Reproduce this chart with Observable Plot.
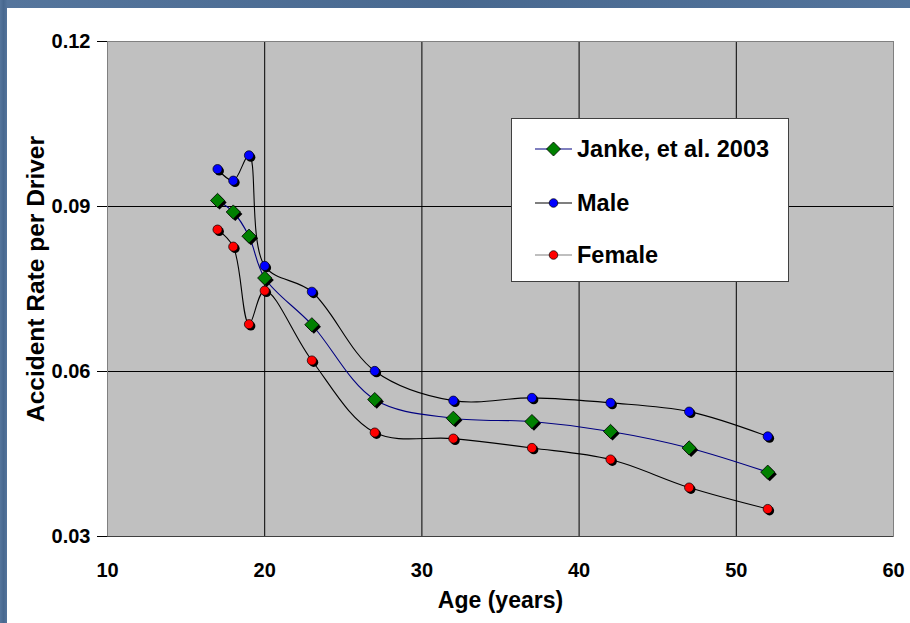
<!DOCTYPE html>
<html>
<head>
<meta charset="utf-8">
<script src="https://cdn.jsdelivr.net/npm/d3@7"></script>
<script src="https://cdn.jsdelivr.net/npm/@observablehq/plot@0.6"></script>
<style>
  html, body { margin: 0; padding: 0; background: #fff; }
  #wrap { position: relative; width: 910px; height: 623px; overflow: hidden;
          font-family: "Liberation Sans", Arial, sans-serif; background: #fff; }
  #chart { position: absolute; left: 0; top: 0; }
  .band { position: absolute; background: #4c6e97;
          background-image: linear-gradient(90deg, rgba(255,255,255,0.05), rgba(0,0,0,0.05), rgba(255,255,255,0.04)); }
  #legend { position: absolute; left: 511px; top: 118px; width: 278px; height: 164px;
            box-sizing: border-box; background: #fff; border: 1px solid #404040; }
  .row { position: absolute; left: 0; height: 30px; display: flex; align-items: center; }
  .row svg { position: absolute; left: 22px; top: 7px; }
  .row span { position: absolute; left: 65px; top: 1px; white-space: nowrap;
              font-weight: bold; font-size: 23.5px; line-height: 28px; color: #000; }
</style>
</head>
<body>
<div id="wrap">
  <div id="chart"></div>
  <div class="band" style="left:0;top:0;width:910px;height:8px;"></div>
  <div class="band" style="left:0;top:0;width:7px;height:623px;"></div>
  <div id="legend"></div>
</div>
<script>
// Crash rate per licensed driver by age
const ages = [17, 18, 19, 20, 23, 27, 32, 37, 42, 47, 52];
const janke = [0.0911, 0.0890, 0.0846, 0.0770, 0.0685, 0.0549, 0.0515, 0.0509, 0.0491, 0.0461, 0.0417];
const male = [0.0968, 0.0947, 0.0993, 0.0792, 0.0745, 0.0601, 0.0547, 0.0552, 0.0543, 0.0527, 0.0482];
const female = [0.0858, 0.0827, 0.0686, 0.0747, 0.0620, 0.0489, 0.0478, 0.0461, 0.0440, 0.0389, 0.0350];

const xTicks = [10, 20, 30, 40, 50, 60];
const yTicks = [0.03, 0.06, 0.09, 0.12];
const seriesNames = ["Janke, et al. 2003", "Male", "Female"];

const rows = (vals) => ages.map((a, i) => ({age: a, rate: vals[i]}));
const jankeRows = rows(janke);
const maleRows = rows(male);
const femaleRows = rows(female);

const font = "'Liberation Sans', Arial, sans-serif";
const lineStroke = {janke: "#000080", male: "#000", female: "#000"};

const chart = Plot.plot({
  width: 910,
  height: 623,
  marginLeft: 107,
  marginRight: 17,
  marginTop: 41,
  marginBottom: 87,
  style: {fontFamily: font, background: "transparent", overflow: "visible"},
  x: {domain: [10, 60]},
  y: {domain: [0.03, 0.12]},
  marks: [
    Plot.frame({fill: "#c0c0c0"}),
    Plot.gridX(xTicks.slice(1, -1), {stroke: "#000", strokeOpacity: 1, strokeWidth: 1}),
    Plot.gridY(yTicks.slice(1, -1), {stroke: "#000", strokeOpacity: 1, strokeWidth: 1}),
    Plot.frame({stroke: "#808080", strokeWidth: 1}),
    Plot.ruleY([0.03], {stroke: "#404040", strokeWidth: 1.2}),
    Plot.axisX(xTicks, {tickSize: 6, tickPadding: 20, fontSize: 20, fontWeight: "bold",
                        fill: "#000", stroke: null, label: null, tickFormat: d => d}),
    Plot.axisY(yTicks, {tickSize: 10, tickPadding: 7, fontSize: 20, fontWeight: "bold",
                        label: null, tickFormat: d3.format(".2f")}),
    Plot.text(["Age (years)"], {frameAnchor: "bottom", dy: 64, fontSize: 23, fontWeight: "bold",
                                textAnchor: "middle", lineAnchor: "middle", fill: "#000"}),
    Plot.text(["Accident Rate per Driver"], {frameAnchor: "left", dx: -71, dy: -10, rotate: -90,
                                             fontSize: 24.5, fontWeight: "bold",
                                             textAnchor: "middle", lineAnchor: "middle", fill: "#000"}),

    // smoothed series lines
    Plot.line(maleRows, {x: "age", y: "rate", curve: "catmull-rom", stroke: lineStroke.male, strokeWidth: 1.1}),
    Plot.line(femaleRows, {x: "age", y: "rate", curve: "catmull-rom", stroke: lineStroke.female, strokeWidth: 1.1}),
    Plot.line(jankeRows, {x: "age", y: "rate", curve: "catmull-rom", stroke: lineStroke.janke, strokeWidth: 1.1}),

    // markers with drop shadows
    Plot.dot(maleRows, {x: "age", y: "rate", r: 4.6, fill: "#000", dx: 1.8, dy: 1.8}),
    Plot.dot(maleRows, {x: "age", y: "rate", r: 4.6, fill: "#0000ff", stroke: "#000", strokeWidth: 0.7}),
    Plot.dot(femaleRows, {x: "age", y: "rate", r: 4.6, fill: "#000", dx: 1.8, dy: 1.8}),
    Plot.dot(femaleRows, {x: "age", y: "rate", r: 4.6, fill: "#ff0000", stroke: "#000", strokeWidth: 0.7}),
    Plot.dot(jankeRows, {x: "age", y: "rate", symbol: "diamond2", r: 6.4, fill: "#000", dx: 2, dy: 2}),
    Plot.dot(jankeRows, {x: "age", y: "rate", symbol: "diamond2", r: 6.4, fill: "#008000", stroke: "#000", strokeWidth: 0.8})
  ]
});
document.getElementById("chart").appendChild(chart);

// Legend box inside the plot area
const legendItems = [
  {name: seriesNames[0], line: "#000080", fill: "#008000", shape: "diamond"},
  {name: seriesNames[1], line: "#000", fill: "#0000ff", shape: "circle"},
  {name: seriesNames[2], line: "#808080", fill: "#ff0000", shape: "circle"}
];
const rowTops = [15, 69, 121];
const legend = d3.select("#legend");
legendItems.forEach((item, i) => {
  const row = legend.append("div").attr("class", "row").style("top", rowTops[i] + "px");
  const svg = row.append("svg").attr("width", 40).attr("height", 16);
  svg.append("line").attr("x1", 1).attr("x2", 38).attr("y1", 8).attr("y2", 8)
     .attr("stroke", item.line).attr("stroke-width", 1.2);
  if (item.shape === "diamond") {
    svg.append("path").attr("d", "M19.5,1 L26.5,8 L19.5,15 L12.5,8 Z")
       .attr("fill", item.fill).attr("stroke", "#000").attr("stroke-width", 0.8);
  } else {
    svg.append("circle").attr("cx", 19.5).attr("cy", 8).attr("r", 4.3)
       .attr("fill", item.fill).attr("stroke", "#000").attr("stroke-width", 0.7);
  }
  row.append("span").text(item.name);
});
</script>
</body>
</html>
